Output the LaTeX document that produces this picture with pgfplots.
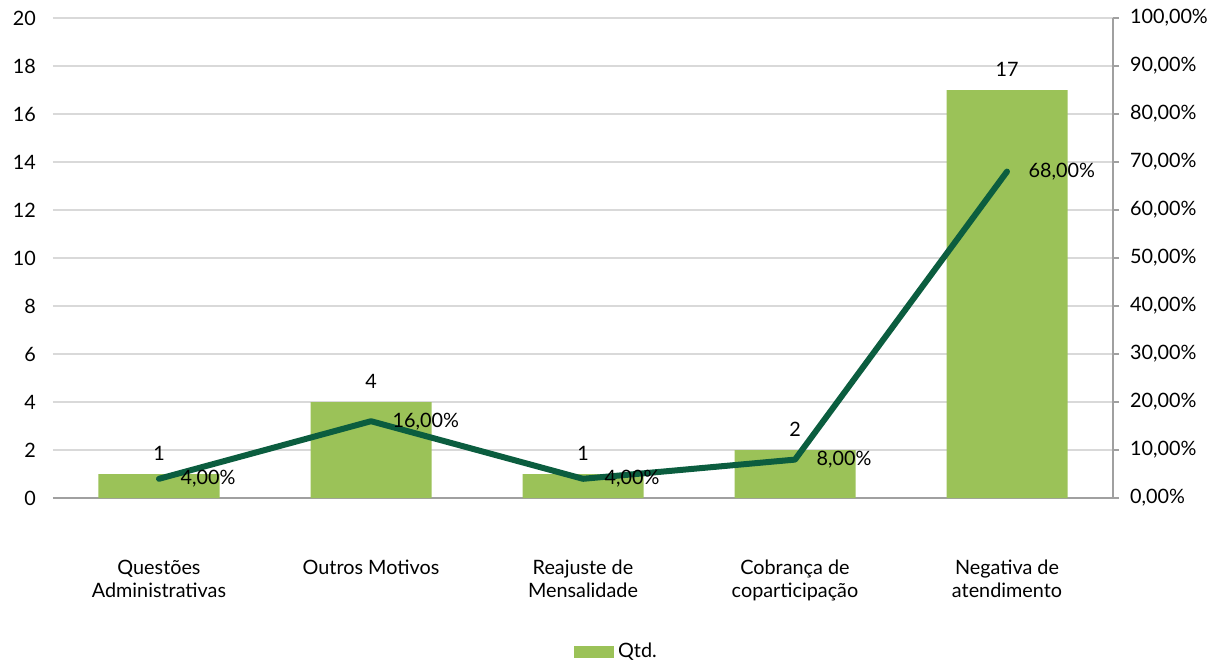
\documentclass[border=0pt]{standalone}
\usepackage{fontspec}
\setmainfont{Lato}
\usepackage{pgfplots}
\pgfplotsset{compat=1.18}
\definecolor{barg}{RGB}{155,194,88}
\definecolor{lineg}{RGB}{11,93,63}
\definecolor{gridc}{RGB}{217,217,217}
\definecolor{axc}{RGB}{160,160,160}
\begin{document}
\begin{tikzpicture}[font=\fontsize{9.9pt}{11.6pt}\selectfont]
\path[use as bounding box] (-26.5pt,-84pt) rectangle (587.5pt,249pt);
\begin{axis}[
  at={(0pt,0pt)}, anchor=south west,
  scale only axis, width=530pt, height=240pt,
  xmin=-0.5, xmax=4.5, ymin=0, ymax=20,
  ytick={0,2,...,20},
  xtick=data,
  xticklabels={{Questões\\Administrativas},{Outros Motivos},{Reajuste de\\Mensalidade},{Cobrança de\\coparticipação},{Negativa de\\atendimento}},
  xticklabel style={align=center, yshift=-27.5pt},
  yticklabel style={xshift=-5pt},
  /pgf/number format/assume math mode=true,
  axis x line*=bottom, axis y line*=left,
  y axis line style={draw=none},
  x axis line style={draw=axc, line width=1pt, -},
  major tick length=0pt,
  ymajorgrids, grid style={draw=gridc, line width=1pt},
  ybar, bar width=60.5pt,
  nodes near coords,
  every node near coord/.append style={anchor=south, yshift=3pt, text=black},
  legend style={at={(axis description cs:0.5325,-0.321)}, anchor=center, draw=none, fill=none},
  legend image code/.code={\fill[barg] (0pt,-3pt) rectangle (20pt,3pt);},
]
\addplot[fill=barg, draw=none] coordinates {(0,1) (1,4) (2,1) (3,2) (4,17)};
\addlegendentry{Qtd.}
\end{axis}
\begin{axis}[
  at={(0pt,0pt)}, anchor=south west,
  scale only axis, width=530pt, height=240pt,
  xmin=-0.5, xmax=4.5, ymin=0, ymax=100,
  ytick={0,10,...,100},
  axis x line=none, axis y line*=right,
  y axis line style={draw=axc, line width=1pt, -},
  ytick style={draw=axc, line width=1pt},
  tick align=outside, major tick length=3pt,
  /pgf/number format/assume math mode=true,
  yticklabel={\pgfmathprintnumber[fixed,fixed zerofill,precision=2,use comma]{\tick}\%},
  yticklabel style={xshift=2pt},
]
\addplot[draw=lineg, line width=3pt, line join=round, line cap=round,
  nodes near coords={\pgfmathprintnumber[fixed,fixed zerofill,precision=2,use comma]{\pgfplotspointmeta}\%},
  point meta=y,
  every node near coord/.append style={anchor=west, xshift=6pt, text=black}]
  coordinates {(0,4) (1,16) (2,4) (3,8) (4,68)};
\end{axis}
\end{tikzpicture}
\end{document}
